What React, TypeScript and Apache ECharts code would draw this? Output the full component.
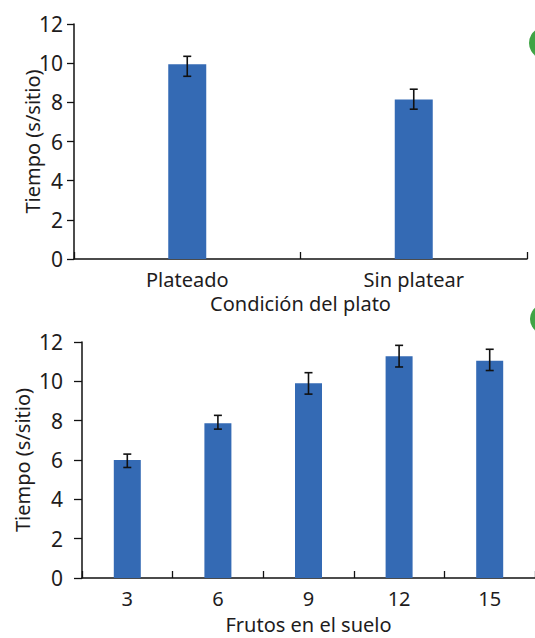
import React, { useEffect, useRef } from "react";
import * as echarts from "echarts";

const plateCategories = ["Plateado", "Sin platear"];
const plateMeans = [9.95, 8.15];
const plateLow = [9.33, 7.65];
const plateHigh = [10.35, 8.67];

const fruitCategories = ["3", "6", "9", "12", "15"];
const fruitMeans = [6.0, 7.87, 9.9, 11.27, 11.05];
const fruitLow = [5.62, 7.57, 9.35, 10.73, 10.55];
const fruitHigh = [6.3, 8.27, 10.44, 11.83, 11.63];

const yTicks = { min: 0, max: 12, interval: 2 };

const FONT = "'Noto Sans', sans-serif";
const TEXT = "#1e1c1d";
const BAR = "#346ab4";

function errorRender(params: any, api: any) {
  const x = api.value(0);
  const lo = api.coord([x, api.value(1)]);
  const hi = api.coord([x, api.value(2)]);
  const half = 4;
  const style = { stroke: "#111", lineWidth: 1.6 };
  return {
    type: "group",
    children: [
      { type: "line", shape: { x1: hi[0], y1: hi[1], x2: lo[0], y2: lo[1] }, style },
      { type: "line", shape: { x1: hi[0] - half, y1: hi[1], x2: hi[0] + half, y2: hi[1] }, style },
      { type: "line", shape: { x1: lo[0] - half, y1: lo[1], x2: lo[0] + half, y2: lo[1] }, style },
    ],
  };
}

function yAxis(gridIndex: number, nameGap: number, labelMargin: number, tickLen: number) {
  return {
    type: "value",
    gridIndex,
    min: yTicks.min,
    max: yTicks.max,
    interval: yTicks.interval,
    name: "Tiempo (s/sitio)",
    nameLocation: "middle",
    nameRotate: 90,
    nameGap,
    nameMoveOverlap: false,
    nameTextStyle: { fontFamily: FONT, fontSize: 20, color: TEXT },
    axisLine: { show: true, lineStyle: { color: "#111", width: 1.5 } },
    axisTick: { show: true, length: tickLen, inside: false, lineStyle: { color: "#111", width: 1.3 } },
    axisLabel: { fontFamily: FONT, fontSize: 21, color: TEXT, margin: labelMargin },
    splitLine: { show: false },
  };
}

function xAxis(gridIndex: number, data: string[], name: string, nameGap: number) {
  return {
    type: "category",
    gridIndex,
    data,
    name,
    nameLocation: "middle",
    nameGap,
    nameMoveOverlap: false,
    nameTextStyle: { fontFamily: FONT, fontSize: 20, color: TEXT },
    axisLine: { show: true, lineStyle: { color: "#111", width: 1.5 } },
    axisTick: { show: true, inside: true, length: 7, alignWithLabel: false, lineStyle: { color: "#111", width: 1.3 } },
    axisLabel: { fontFamily: FONT, fontSize: 20, color: TEXT, margin: 10 },
  };
}

export default function App() {
  const ref = useRef<HTMLDivElement>(null);
  useEffect(() => {
    if (!ref.current) return;
    const chart = echarts.init(ref.current, null, { renderer: "svg" });
    chart.setOption({
      animation: false,
      backgroundColor: "#ffffff",
      grid: [
        { left: 74, top: 24, width: 453, height: 235 },
        { left: 82, top: 342, width: 455, height: 236 },
      ],
      xAxis: [
        xAxis(0, plateCategories, "Condición del plato", 34),
        xAxis(1, fruitCategories, "Frutos en el suelo", 36),
      ],
      yAxis: [yAxis(0, 32, 11, 7), yAxis(1, 50, 19, 8)],
      series: [
        {
          type: "bar",
          xAxisIndex: 0,
          yAxisIndex: 0,
          data: plateMeans,
          barWidth: 38,
          itemStyle: { color: BAR },
        },
        {
          type: "custom",
          xAxisIndex: 0,
          yAxisIndex: 0,
          renderItem: errorRender,
          encode: { x: 0, y: [1, 2] },
          data: plateCategories.map((_, i) => [i, plateLow[i], plateHigh[i]]),
          z: 5,
        },
        {
          type: "bar",
          xAxisIndex: 1,
          yAxisIndex: 1,
          data: fruitMeans,
          barWidth: 27,
          itemStyle: { color: BAR },
        },
        {
          type: "custom",
          xAxisIndex: 1,
          yAxisIndex: 1,
          renderItem: errorRender,
          encode: { x: 0, y: [1, 2] },
          data: fruitCategories.map((_, i) => [i, fruitLow[i], fruitHigh[i]]),
          z: 5,
        },
      ],
      graphic: [
        { type: "circle", shape: { cx: 545, cy: 43, r: 16 }, style: { fill: "#3fa445" } },
        { type: "circle", shape: { cx: 545, cy: 319, r: 15 }, style: { fill: "#3fa445" } },
      ],
    });
    return () => chart.dispose();
  }, []);
  return (
    <div
      ref={ref}
      style={{ position: "fixed", left: 0, top: 0, width: 535, height: 638 }}
    />
  );
}
